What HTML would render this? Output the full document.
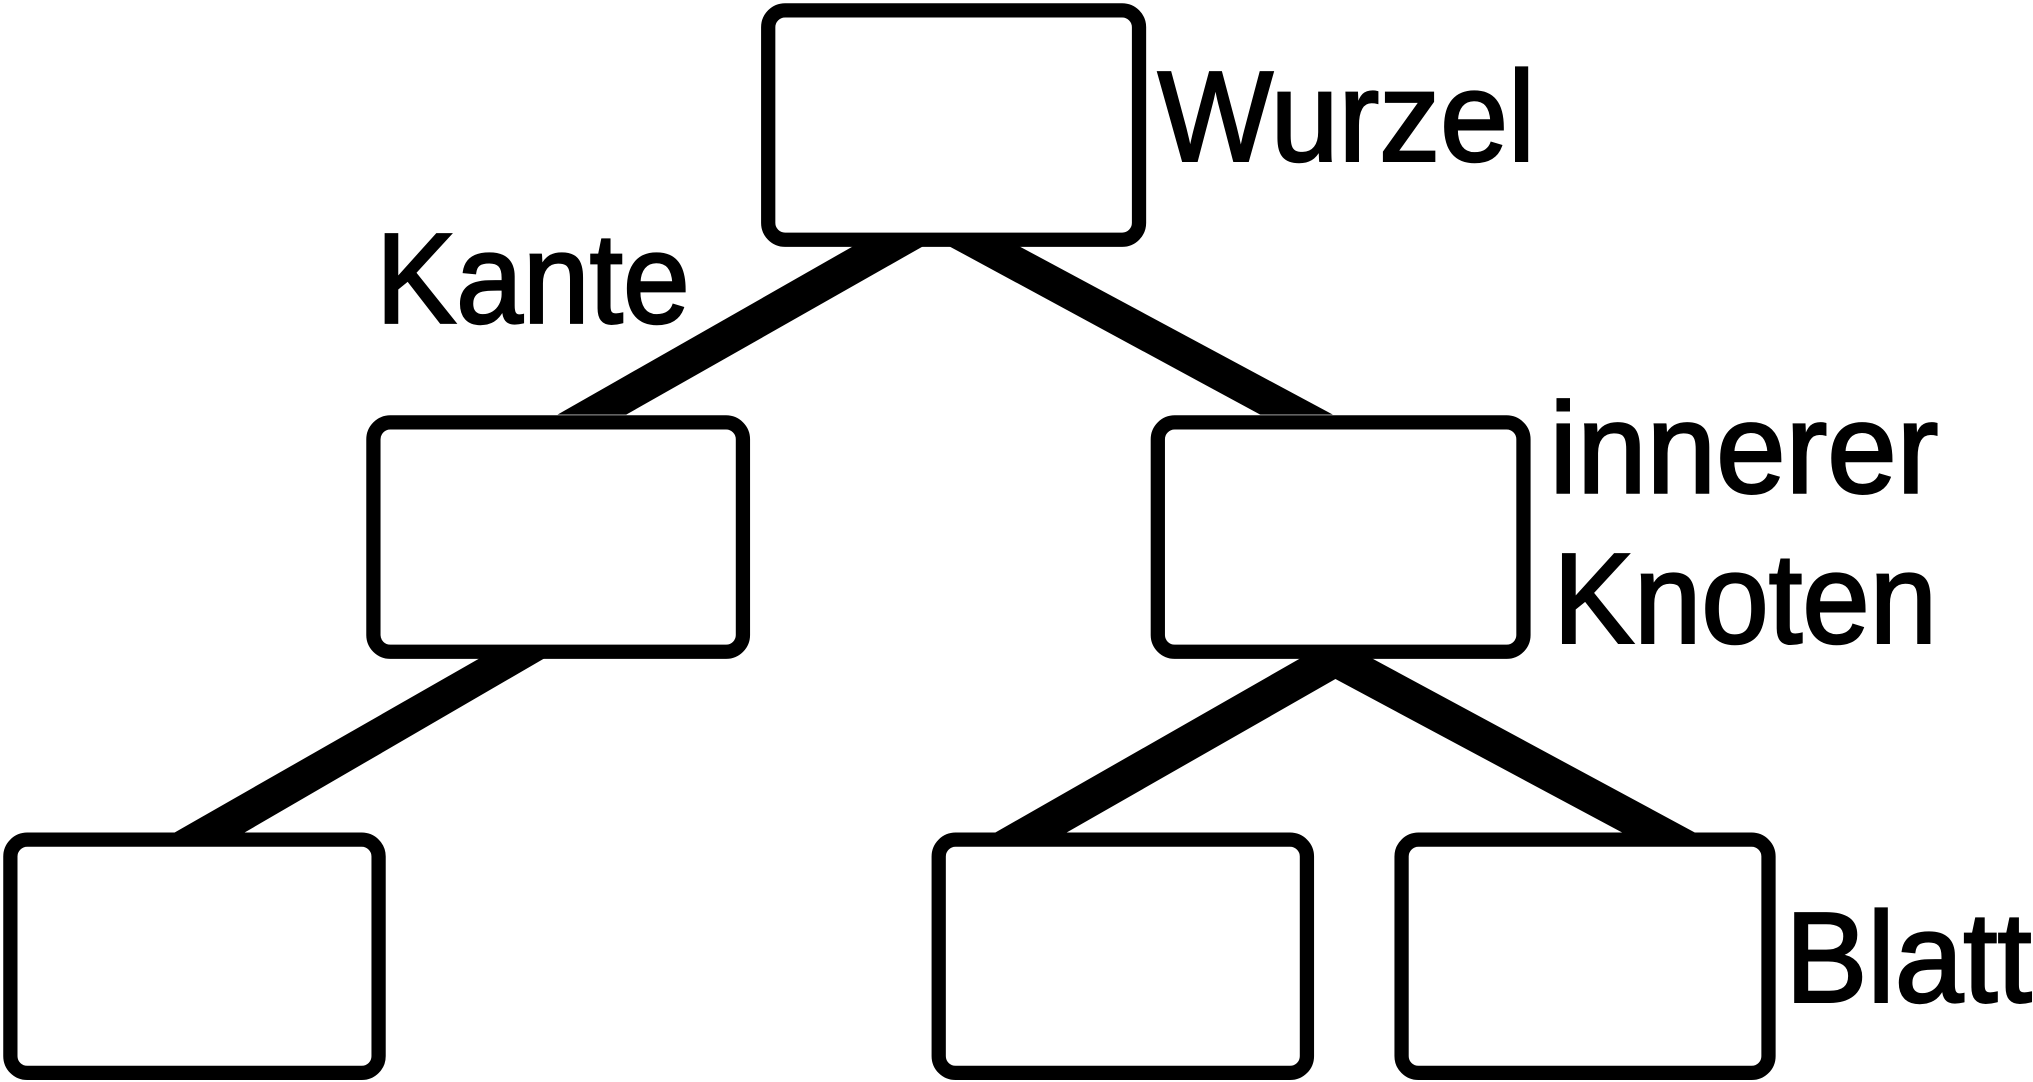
<!DOCTYPE html>
<html><head><meta charset="utf-8"><style>html,body{margin:0;padding:0;background:#fff;}svg{display:block;}</style></head>
<body>
<svg width="2033" height="1082" viewBox="0 0 1568 835" preserveAspectRatio="none" xmlns="http://www.w3.org/2000/svg">
<g fill="#000">
<polygon points="658,190 712,190 483,320 430,320"/>
<polygon points="732,190 786,190 1028,320 972,320"/>
<polygon points="370,508 420,508 186,644 132,644"/>
<polygon points="1003,508 1058,508 1310,644 1254,644 1030,524 820,644 765,644"/>
</g>
<g fill="#fff" stroke="#000" stroke-width="11">
<rect x="592.5" y="8" width="286" height="177" rx="13"/>
<rect x="288" y="326" width="285" height="177" rx="13"/>
<rect x="893" y="326" width="282" height="177" rx="13"/>
<rect x="8" y="648" width="284" height="180" rx="13"/>
<rect x="724" y="648" width="284" height="180" rx="13"/>
<rect x="1081" y="648" width="283" height="180" rx="13"/>
</g>
<g font-family="Liberation Sans, Arial, sans-serif" font-size="99" fill="#000" stroke="#000" stroke-width="2">
<text x="893" y="124" textLength="291" lengthAdjust="spacingAndGlyphs">Wurzel</text>
<text x="290" y="249" textLength="242" lengthAdjust="spacingAndGlyphs">Kante</text>
<text x="1195" y="380" textLength="300" lengthAdjust="spacingAndGlyphs">innerer</text>
<text x="1198" y="496" textLength="296" lengthAdjust="spacingAndGlyphs">Knoten</text>
<text x="1377" y="773" textLength="190" lengthAdjust="spacingAndGlyphs">Blatt</text>
</g>
</svg>
</body></html>
